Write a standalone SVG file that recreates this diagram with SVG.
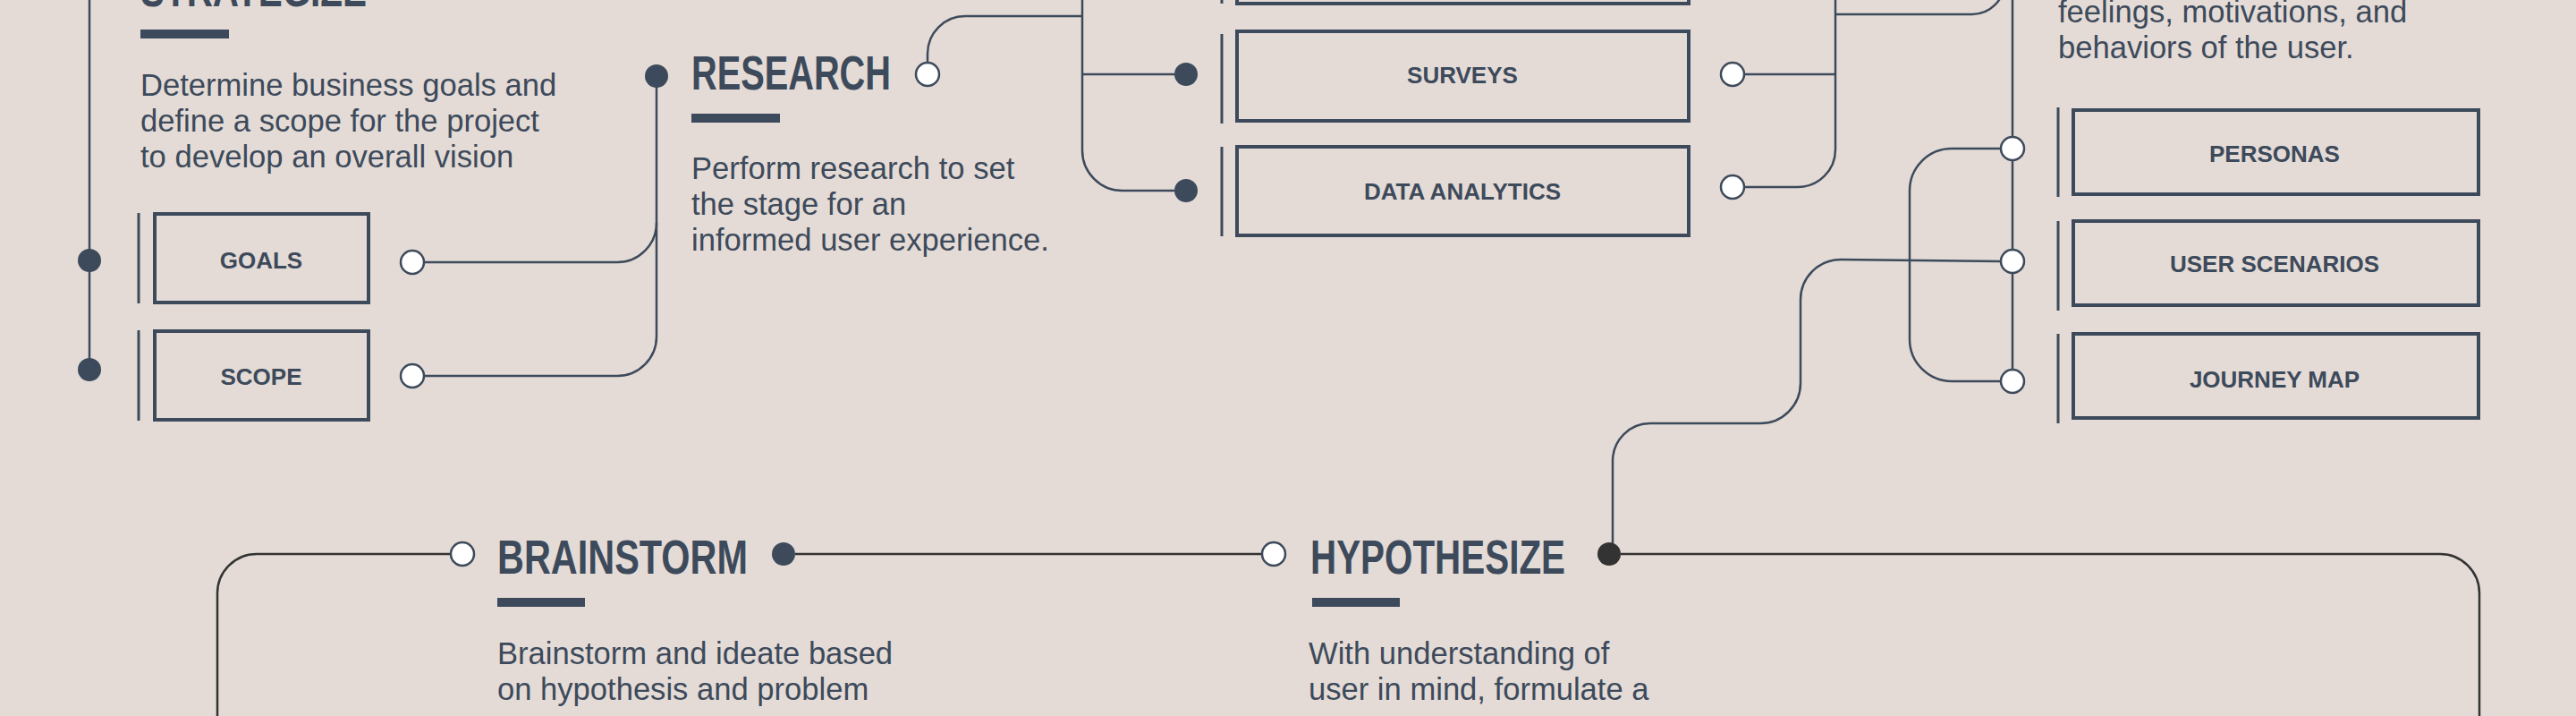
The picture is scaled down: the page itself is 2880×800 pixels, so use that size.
<svg xmlns="http://www.w3.org/2000/svg" width="2880" height="800" viewBox="0 0 2880 800">
<style>
.bg{fill:#E4DBD6}
.title{font-family:"Liberation Sans",Arial,sans-serif;font-weight:bold;font-size:53px;fill:#3D4A5B}
.desc{font-family:"Liberation Sans",Arial,sans-serif;font-size:34.6px;fill:#3D4A5B}
.lbl{font-family:"Liberation Sans",Arial,sans-serif;font-weight:bold;font-size:26px;fill:#3D4A5B;text-anchor:middle}
.bar{fill:#3D4A5B}
.box{fill:none;stroke:#3D4A5B;stroke-width:4}
.side{stroke:#3D4A5B;stroke-width:3}
.ln{fill:none;stroke:#3D4A5B;stroke-width:2.5}
.ln2{fill:none;stroke:#333333;stroke-width:2.5}
.dot{fill:#3D4A5B}
.dot2{fill:#333333}
.open{fill:#FFFFFF;stroke:#3D4A5B;stroke-width:2.5}
</style>
<rect class="bg" x="0" y="0" width="2880" height="800"/>

<g id="connectors">
  <path class="ln" d="M100,0 V413"/>
  <path class="ln" d="M474,293 H690 A44,44 0 0 0 734,249"/>
  <path class="ln" d="M474,420 H690 A44,44 0 0 0 734,376 V85"/>
  <path class="ln" d="M1037,70 V60 A42,42 0 0 1 1079,18 H1210"/>
  <path class="ln" d="M1210,0 V168 A45,45 0 0 0 1255,213 H1313"/>
  <path class="ln" d="M1210,83 H1313"/>
  <path class="ln" d="M1950,83 H2052"/>
  <path class="ln" d="M1950,209 H2010 A42,42 0 0 0 2052,167 V0"/>
  <path class="ln" d="M2052,16 H2205 A36,36 0 0 0 2241,-20 V-40"/>
  <path class="ln" d="M2250,0 V426"/>
  <path class="ln" d="M2237,166 H2182 A47,47 0 0 0 2135,213 V379 A47,47 0 0 0 2182,426 H2237"/>
  <path class="ln" d="M2237,292 L2058,290 A45,45 0 0 0 2013,335 V428 A45,45 0 0 1 1968,473 H1845 A42,42 0 0 0 1803,515 V620"/>
  <path class="ln2" d="M504,619 H287 A44,44 0 0 0 243,663 V800"/>
  <path class="ln2" d="M889,619 H1411"/>
  <path class="ln2" d="M1812,619 H2728 A44,44 0 0 1 2772,663 V800"/>

  <circle class="dot" cx="100" cy="291" r="13"/>
  <circle class="dot" cx="100" cy="413" r="13"/>
  <circle class="open" cx="461" cy="293" r="13"/>
  <circle class="open" cx="461" cy="420" r="13"/>
  <circle class="dot" cx="734" cy="85" r="13"/>
  <circle class="open" cx="1037" cy="83" r="13"/>
  <circle class="dot" cx="1326" cy="83" r="13"/>
  <circle class="dot" cx="1326" cy="213" r="13"/>
  <circle class="open" cx="1937" cy="83" r="13"/>
  <circle class="open" cx="1937" cy="209" r="13"/>
  <circle class="open" cx="2250" cy="166" r="13"/>
  <circle class="open" cx="2250" cy="292" r="13"/>
  <circle class="open" cx="2250" cy="426" r="13"/>
  <circle class="open" cx="517" cy="619" r="13"/>
  <circle class="dot" cx="876" cy="619" r="13"/>
  <circle class="open" cx="1424" cy="619" r="13"/>
  <circle class="dot2" cx="1799" cy="619" r="13"/>
</g>

<g id="strategize">
  <text class="title" x="157" y="7" textLength="253" lengthAdjust="spacingAndGlyphs">STRATEGIZE</text>
  <rect class="bar" x="157" y="33" width="99" height="10"/>
  <text class="desc" x="157" y="107">Determine business goals and</text>
  <text class="desc" x="157" y="147">define a scope for the project</text>
  <text class="desc" x="157" y="187">to develop an overall vision</text>
</g>

<g id="goals">
  <line class="side" x1="155" y1="238" x2="155" y2="339"/>
  <rect class="box" x="173" y="239" width="239" height="99"/>
  <text class="lbl" x="292" y="300">GOALS</text>
</g>

<g id="scope">
  <line class="side" x1="155" y1="369" x2="155" y2="470"/>
  <rect class="box" x="173" y="370" width="239" height="99"/>
  <text class="lbl" x="292" y="430">SCOPE</text>
</g>

<g id="research">
  <text class="title" x="773" y="100" textLength="223" lengthAdjust="spacingAndGlyphs">RESEARCH</text>
  <rect class="bar" x="773" y="127" width="99" height="10"/>
  <text class="desc" x="773" y="200">Perform research to set</text>
  <text class="desc" x="773" y="240">the stage for an</text>
  <text class="desc" x="773" y="280">informed user experience.</text>
</g>

<g id="research-top-item">
  <line class="side" x1="1366" y1="-100" x2="1366" y2="4"/>
  <rect class="box" x="1383" y="-100" width="505" height="104"/>
</g>

<g id="surveys">
  <line class="side" x1="1366" y1="38" x2="1366" y2="138"/>
  <rect class="box" x="1383" y="35" width="505" height="100"/>
  <text class="lbl" x="1635" y="93">SURVEYS</text>
</g>

<g id="data-analytics">
  <line class="side" x1="1366" y1="164" x2="1366" y2="264"/>
  <rect class="box" x="1383" y="164" width="505" height="99"/>
  <text class="lbl" x="1635" y="223">DATA ANALYTICS</text>
</g>

<g id="user-stage">
  <text class="desc" x="2301" y="25">feelings, motivations, and</text>
  <text class="desc" x="2301" y="65">behaviors of the user.</text>
</g>

<g id="personas">
  <line class="side" x1="2301" y1="120" x2="2301" y2="220"/>
  <rect class="box" x="2318" y="123" width="453" height="94"/>
  <text class="lbl" x="2543" y="181">PERSONAS</text>
</g>

<g id="user-scenarios">
  <line class="side" x1="2301" y1="247" x2="2301" y2="347"/>
  <rect class="box" x="2318" y="247" width="453" height="94"/>
  <text class="lbl" x="2543" y="304">USER SCENARIOS</text>
</g>

<g id="journey-map">
  <line class="side" x1="2301" y1="373" x2="2301" y2="473"/>
  <rect class="box" x="2318" y="373" width="453" height="94"/>
  <text class="lbl" x="2543" y="433">JOURNEY MAP</text>
</g>

<g id="brainstorm">
  <text class="title" x="556" y="641" textLength="280" lengthAdjust="spacingAndGlyphs">BRAINSTORM</text>
  <rect class="bar" x="556" y="668" width="98" height="10"/>
  <text class="desc" x="556" y="742">Brainstorm and ideate based</text>
  <text class="desc" x="556" y="782">on hypothesis and problem</text>
</g>

<g id="hypothesize">
  <text class="title" x="1465" y="641" textLength="285" lengthAdjust="spacingAndGlyphs">HYPOTHESIZE</text>
  <rect class="bar" x="1467" y="668" width="98" height="10"/>
  <text class="desc" x="1463" y="742">With understanding of</text>
  <text class="desc" x="1463" y="782">user in mind, formulate a</text>
</g>
</svg>
